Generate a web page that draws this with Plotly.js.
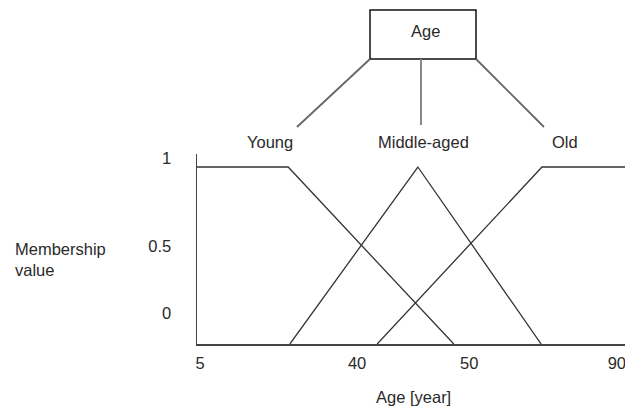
<!DOCTYPE html>
<html>
<head>
<meta charset="utf-8">
<script src="https://cdn.plot.ly/plotly-3.0.1.min.js"></script>
<style>html,body{margin:0;padding:0;background:#fff;}#chart{width:625px;height:406px;}</style>
</head>
<body>
<div id="chart"></div>
<script>
// Schematic horizontal positions (0..100 across the axis) and membership values
const youngX = [0, 21.3, 60.0];
const youngY = [1, 1, 0];
const middleX = [21.7, 51.6, 80.4];
const middleY = [0, 1, 0];
const oldX = [42.1, 80.6, 100];
const oldY = [0, 1, 1];

const xTickVals = [0.7, 37.4, 63.6, 98.1];
const xTickText = ['5', '40', '50', '90'];
const yTickVals = [1.05, 0.554, 0.175];
const yTickText = ['1', '0.5', '0'];

const treeRoot = 'Age';
const treeLeaves = ['Young', 'Middle-aged', 'Old'];

const FONT = 'Liberation Sans, Arial, sans-serif';
const TXT = '#2a2a2a';
const lineStyle = {color: '#333', width: 1.3};

const traces = [
  {x: youngX, y: youngY, mode: 'lines', line: lineStyle, hoverinfo: 'skip', cliponaxis: false},
  {x: middleX, y: middleY, mode: 'lines', line: lineStyle, hoverinfo: 'skip', cliponaxis: false},
  {x: oldX, y: oldY, mode: 'lines', line: lineStyle, hoverinfo: 'skip', cliponaxis: false}
];

// plot area in pixels: x 197..625, y 154..344
const L = 197, R = 625, T = 154, B = 344;
const PX = p => (p - L) / (R - L);
const PY = p => (B - p) / (B - T);

const shapes = [
  {type: 'rect', xref: 'paper', yref: 'paper', x0: PX(370), x1: PX(476), y0: PY(59), y1: PY(10),
   line: {color: '#111', width: 1.5}, fillcolor: 'rgba(0,0,0,0)'},
  {type: 'line', xref: 'paper', yref: 'paper', x0: PX(370), y0: PY(59), x1: PX(297), y1: PY(127),
   line: {color: '#666', width: 1.8}},
  {type: 'line', xref: 'paper', yref: 'paper', x0: PX(421), y0: PY(59), x1: PX(421), y1: PY(125),
   line: {color: '#888', width: 2}},
  {type: 'line', xref: 'paper', yref: 'paper', x0: PX(476), y0: PY(59), x1: PX(544), y1: PY(127),
   line: {color: '#666', width: 1.8}}
];

const fs = 16.5;
const ann = (text, px, py, xanchor) => ({
  text: text, xref: 'paper', yref: 'paper', x: PX(px), y: PY(py),
  xanchor: xanchor || 'center', yanchor: 'middle', showarrow: false,
  font: {family: FONT, size: fs, color: TXT}, align: 'left'
});

const annotations = [
  ann(treeRoot, 425, 31),
  ann(treeLeaves[0], 270, 142),
  ann(treeLeaves[1], 423, 142),
  ann(treeLeaves[2], 565, 142),
  ann('Membership<br>value', 13, 259, 'left'),
  ann('Age [year]', 413, 397)
];

const layout = {
  width: 625, height: 406,
  margin: {l: L, r: 0, t: T, b: 406 - B, pad: 0},
  paper_bgcolor: '#fff', plot_bgcolor: '#fff',
  showlegend: false,
  font: {family: FONT, size: fs, color: TXT},
  xaxis: {
    range: [0, 100], showgrid: false, zeroline: false,
    showline: true, linecolor: '#444', linewidth: 1.5,
    tickmode: 'array', tickvals: xTickVals, ticktext: xTickText,
    ticks: 'outside', ticklen: 4, tickcolor: 'rgba(0,0,0,0)',
    ticklabeloverflow: 'allow',
    tickfont: {family: FONT, size: fs, color: TXT}, fixedrange: true
  },
  yaxis: {
    range: [0, 190 / 177], showgrid: false, zeroline: false,
    showline: true, linecolor: '#444', linewidth: 1.5,
    tickmode: 'array', tickvals: yTickVals, ticktext: yTickText,
    ticks: 'outside', ticklen: 21, tickcolor: 'rgba(0,0,0,0)',
    ticklabeloverflow: 'allow',
    tickfont: {family: FONT, size: fs, color: TXT}, fixedrange: true
  },
  shapes: shapes,
  annotations: annotations
};

Plotly.newPlot('chart', traces, layout, {displayModeBar: false, staticPlot: true});
</script>
</body>
</html>
